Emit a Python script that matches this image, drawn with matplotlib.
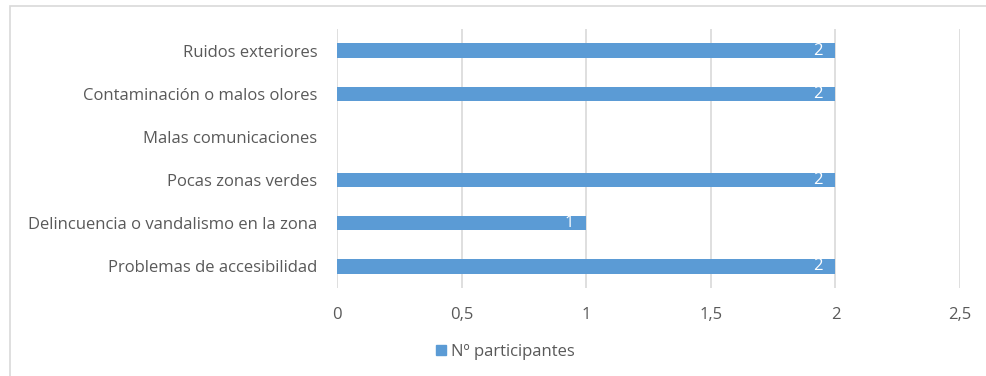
import matplotlib.pyplot as plt
from matplotlib.patches import Rectangle

# categories from bottom to top
categories = ['Problemas de accesibilidad',
              'Delincuencia o vandalismo en la zona',
              'Pocas zonas verdes',
              'Malas comunicaciones',
              'Contaminación o malos olores',
              'Ruidos exteriores']
values = [2, 1, 2, 0, 2, 2]
xticks = [0, 0.5, 1, 1.5, 2, 2.5]
xtick_labels = ['0', '0,5', '1', '1,5', '2', '2,5']
series_name = 'Nº participantes'

bar_color = '#5B9BD5'
text_color = '#595959'
grid_color = '#D9D9D9'

plt.rcParams['font.family'] = ['Open Sans', 'DejaVu Sans']

fig = plt.figure(figsize=(9.87, 3.76), dpi=100)
ax = fig.add_axes([337 / 987, 1 - 288 / 376, (960 - 337) / 987, (288 - 29) / 376])

# outer chart border (only left and top visible in the picture)
fig.patches.append(Rectangle((10 / 987, -0.1), 1.1, 1.1 - 6 / 376, transform=fig.transFigure,
                             fill=False, edgecolor=grid_color, linewidth=1.2))

ypos = range(len(categories))
bars = ax.barh(ypos, values, height=0.33, color=bar_color, zorder=3)

for b, v in zip(bars, values):
    if v > 0:
        ax.text(v - 0.07, b.get_y() + b.get_height() / 2, str(v), ha='center', va='center',
                color='white', fontsize=12, zorder=4)

ax.set_xlim(0, 2.5)
ax.set_ylim(-0.5, len(categories) - 0.5)
ax.set_xticks(xticks)
ax.set_xticklabels(xtick_labels)
ax.set_yticks(list(ypos))
ax.set_yticklabels(categories)
ax.tick_params(axis='both', length=0, colors=text_color, labelsize=12)
ax.tick_params(axis='x', pad=14)
ax.tick_params(axis='y', pad=14)
ax.xaxis.grid(True, color=grid_color, linewidth=1.2, zorder=0)
for s in ax.spines.values():
    s.set_visible(False)

handle = Rectangle((0, 0), 1, 1, color=bar_color)
fig.legend([handle], [series_name], loc='center', bbox_to_anchor=(505 / 987, 1 - 352 / 376),
           frameon=False, fontsize=12, labelcolor=text_color, handlelength=0.6,
           handleheight=0.6, handletextpad=0.3)

fig.savefig('out.png', dpi=100)
